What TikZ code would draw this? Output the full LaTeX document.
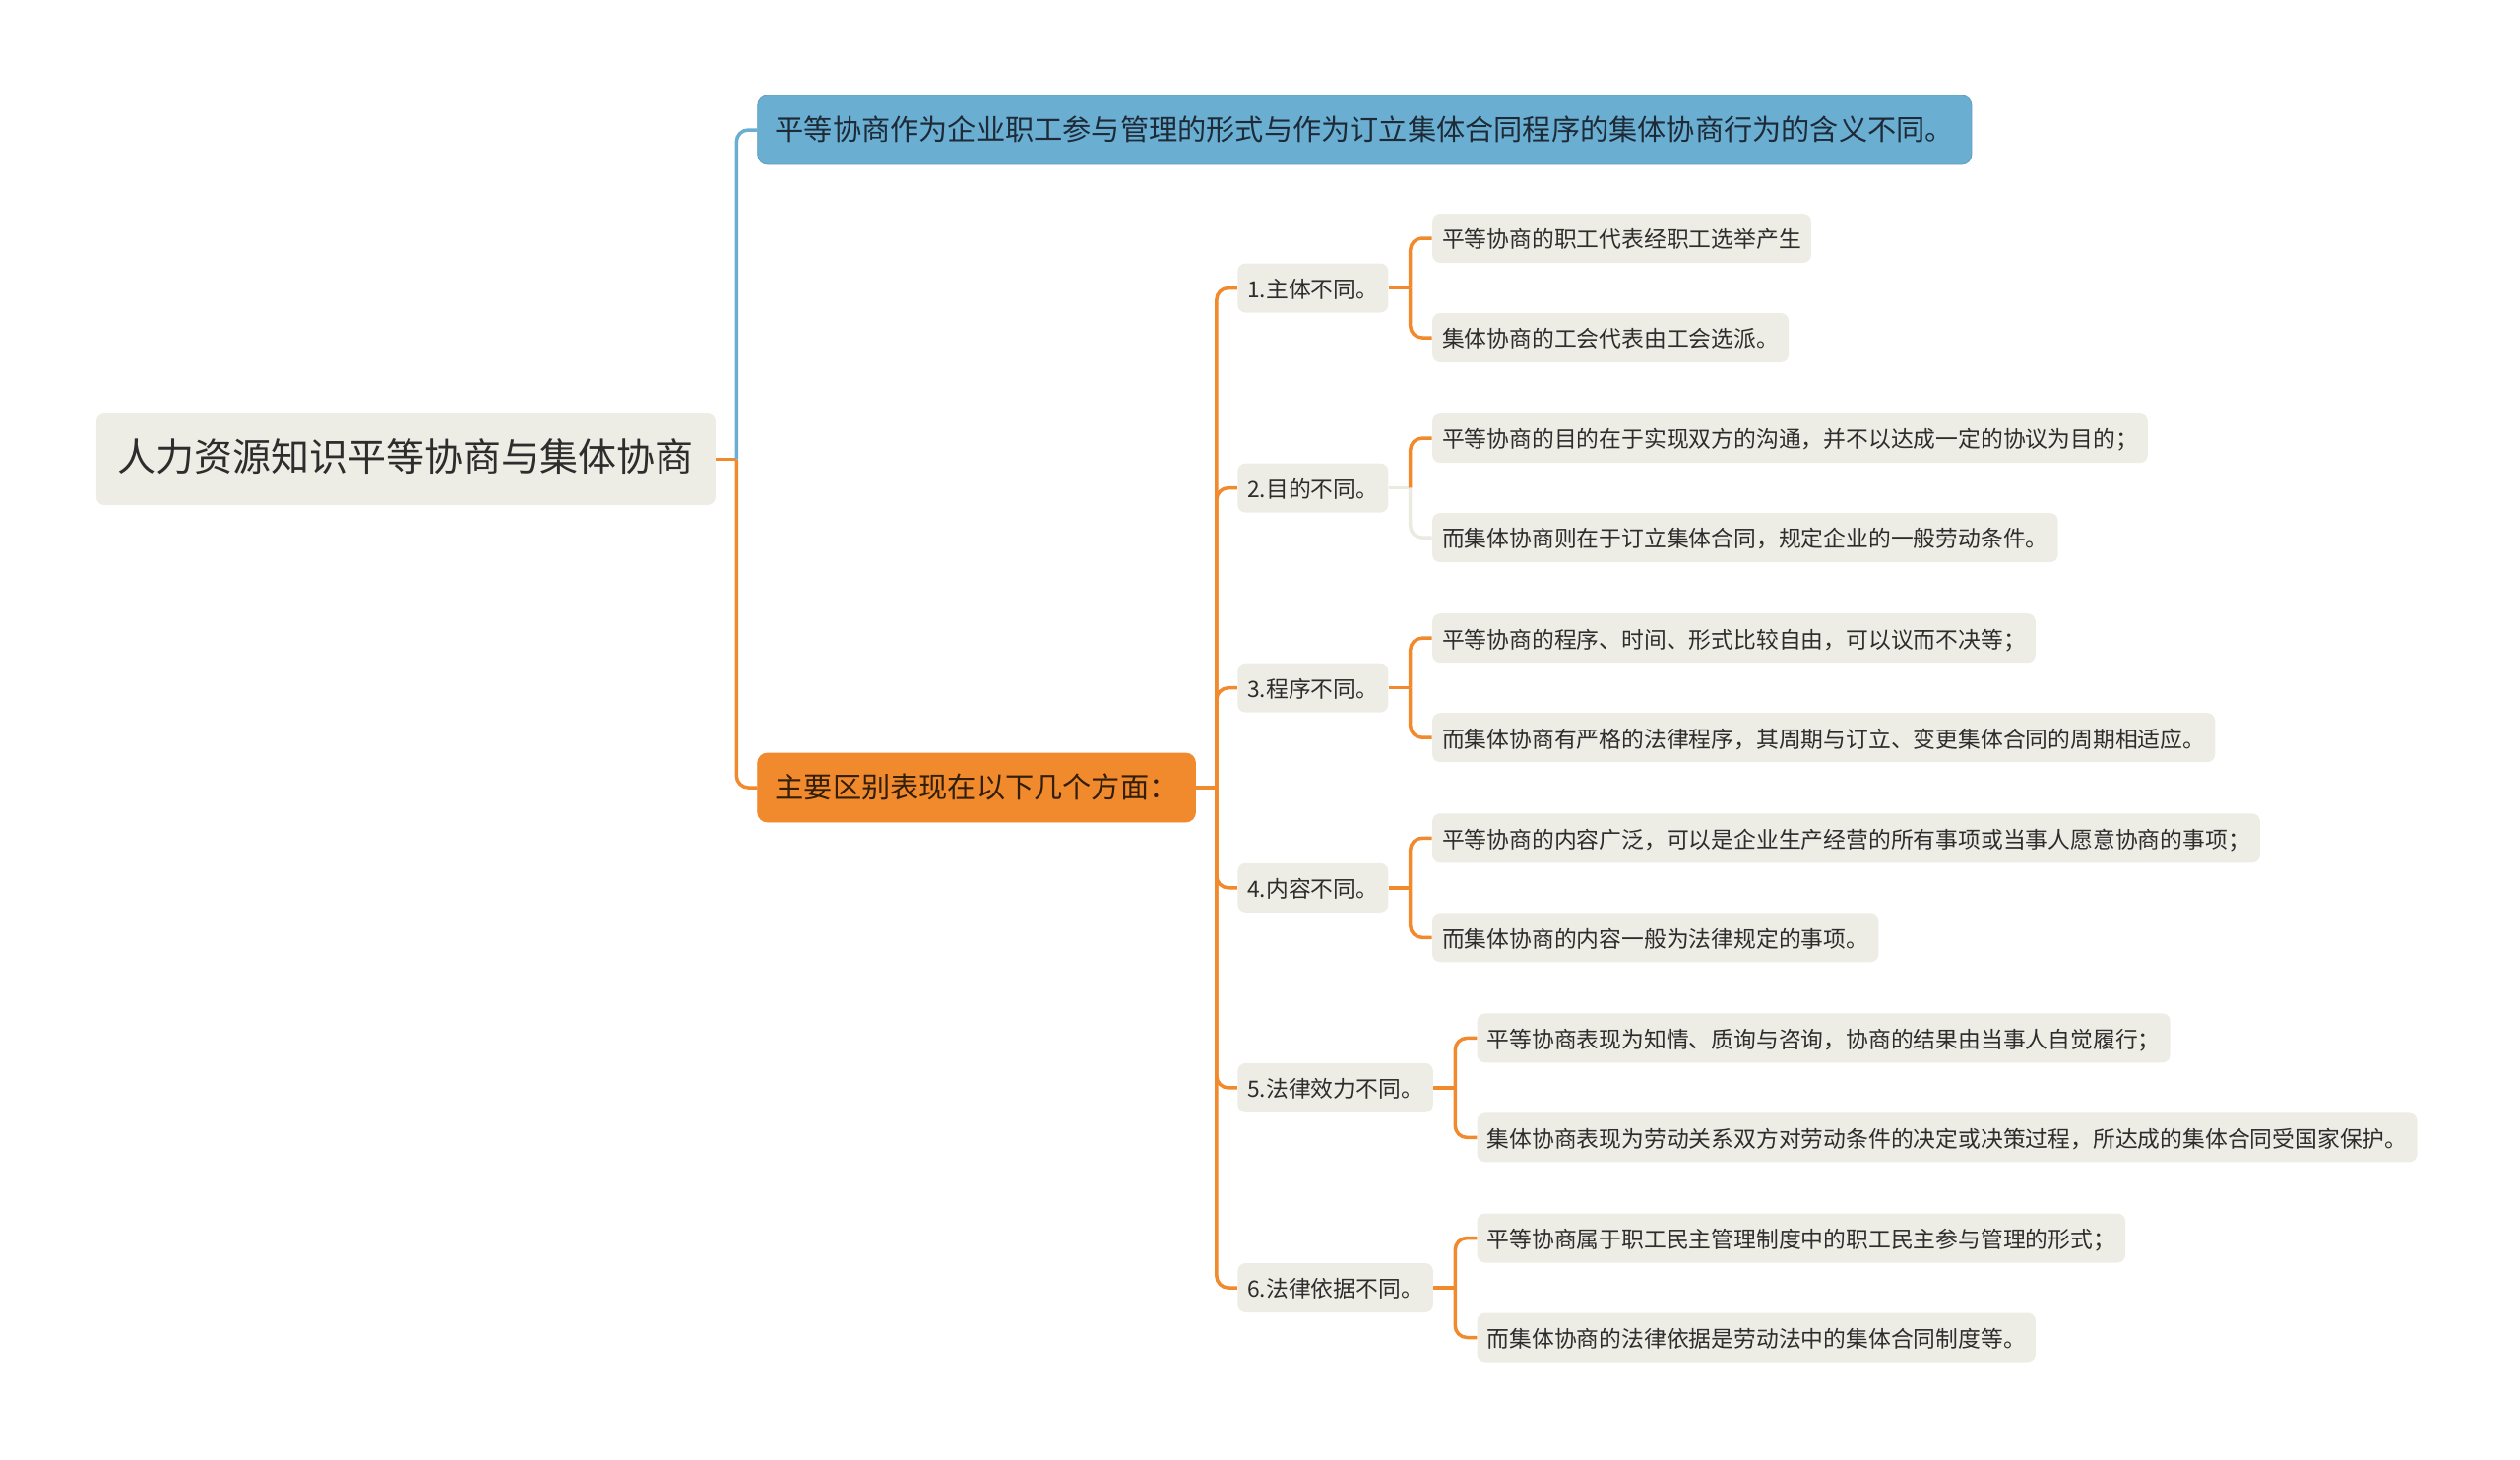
\documentclass[tikz,border=0pt]{standalone}
\usepackage{fontspec}
\setmainfont{Noto Sans CJK SC}
\usetikzlibrary{positioning}
\definecolor{paper}{RGB}{238,237,229}
\definecolor{skyblue}{RGB}{106,175,210}
\definecolor{tangerine}{RGB}{240,138,45}
\definecolor{ink}{RGB}{45,45,45}
\definecolor{paleline}{RGB}{234,234,224}
\tikzset{
  rootnode/.style={fill=paper, rounded corners=4pt, text=ink, inner xsep=11pt,
    minimum height=46.5pt, text height=1.2em, text depth=0pt,
    font=\fontsize{19.5pt}{23pt}\selectfont},
  bluetopic/.style={fill=skyblue, draw=skyblue!90!black, line width=0.4pt,
    rounded corners=5pt, text={rgb,255:red,30;green,42;blue,55}, inner xsep=9pt,
    minimum height=35pt, text height=1.05em, text depth=0pt,
    font=\fontsize{14.6pt}{17.5pt}\selectfont},
  orangetopic/.style={bluetopic, fill=tangerine, draw=tangerine,
    text={rgb,255:red,50;green,30;blue,10}},
  branch/.style={fill=paper, rounded corners=4pt, text=ink, inner xsep=5pt,
    minimum height=25pt, text height=0.98em, text depth=0pt,
    font=\fontsize{11.4pt}{13.7pt}\selectfont},
  leaf/.style={branch},
  link/.style={line width=1.75pt, rounded corners=6pt},
}
\begin{document}
\begin{tikzpicture}[x=0.5pt, y=-0.5pt]
  \useasboundingbox (0,0) rectangle (2560,1483);
  % Define nodes
  \node[rootnode, anchor=west] (root) at (97.5,466.5) {人力资源知识平等协商与集体协商};
  \coordinate[right=10.5pt of root] (jr);
  \node[bluetopic, right=10.5pt of jr, yshift=167.25pt] (meaning)
    {平等协商作为企业职工参与管理的形式与作为订立集体合同程序的集体协商行为的含义不同。};
  \node[orangetopic, right=10.5pt of jr, yshift=-166.75pt] (aspects) {主要区别表现在以下几个方面：};
  \coordinate[right=10.5pt of aspects] (ja);

  \node[branch, right=10.5pt of ja, yshift=253.75pt] (subject) {1.主体不同。};
  \coordinate[right=11pt of subject] (js);
  \node[leaf, right=11pt of js, yshift=25.25pt] (subjecta) {平等协商的职工代表经职工选举产生};
  \node[leaf, right=11pt of js, yshift=-25.25pt] (subjectb) {集体协商的工会代表由工会选派。};

  \node[branch, right=10.5pt of ja, yshift=152.2pt] (purpose) {2.目的不同。};
  \coordinate[right=11pt of purpose] (jp);
  \node[leaf, right=11pt of jp, yshift=25.25pt] (purposea) {平等协商的目的在于实现双方的沟通，并不以达成一定的协议为目的；};
  \node[leaf, right=11pt of jp, yshift=-25.25pt] (purposeb) {而集体协商则在于订立集体合同，规定企业的一般劳动条件。};

  \node[branch, right=10.5pt of ja, yshift=50.65pt] (procedure) {3.程序不同。};
  \coordinate[right=11pt of procedure] (jo);
  \node[leaf, right=11pt of jo, yshift=25.25pt] (procedurea) {平等协商的程序、时间、形式比较自由，可以议而不决等；};
  \node[leaf, right=11pt of jo, yshift=-25.25pt] (procedureb) {而集体协商有严格的法律程序，其周期与订立、变更集体合同的周期相适应。};

  \node[branch, right=10.5pt of ja, yshift=-50.9pt] (content) {4.内容不同。};
  \coordinate[right=11pt of content] (jc);
  \node[leaf, right=11pt of jc, yshift=25.25pt] (contenta) {平等协商的内容广泛，可以是企业生产经营的所有事项或当事人愿意协商的事项；};
  \node[leaf, right=11pt of jc, yshift=-25.25pt] (contentb) {而集体协商的内容一般为法律规定的事项。};

  \node[branch, right=10.5pt of ja, yshift=-152.45pt] (effect) {5.法律效力不同。};
  \coordinate[right=11pt of effect] (je);
  \node[leaf, right=11pt of je, yshift=25.25pt] (effecta) {平等协商表现为知情、质询与咨询，协商的结果由当事人自觉履行；};
  \node[leaf, right=11pt of je, yshift=-25.25pt] (effectb) {集体协商表现为劳动关系双方对劳动条件的决定或决策过程，所达成的集体合同受国家保护。};

  \node[branch, right=10.5pt of ja, yshift=-254pt] (basis) {6.法律依据不同。};
  \coordinate[right=11pt of basis] (jb);
  \node[leaf, right=11pt of jb, yshift=25.25pt] (basisa) {平等协商属于职工民主管理制度中的职工民主参与管理的形式；};
  \node[leaf, right=11pt of jb, yshift=-25.25pt] (basisb) {而集体协商的法律依据是劳动法中的集体合同制度等。};

  % Connect nodes
  \draw[link, tangerine] (root.east) -- (jr);
  \draw[link, skyblue] (jr) |- (meaning.west);
  \draw[link, tangerine] (jr) |- (aspects.west);
  \draw[link, tangerine] (aspects.east) -- (ja);
  \draw[link, tangerine] (ja) |- (subject.west);
  \draw[link, tangerine] (ja) |- (purpose.west);
  \draw[link, tangerine] (ja) |- (procedure.west);
  \draw[link, tangerine] (ja) |- (content.west);
  \draw[link, tangerine] (ja) |- (effect.west);
  \draw[link, tangerine] (ja) |- (basis.west);

  \draw[link, tangerine] (subject.east) -- (js);
  \draw[link, tangerine] (js) |- (subjecta.west);
  \draw[link, tangerine] (js) |- (subjectb.west);
  \draw[link, paleline] (purpose.east) -- (jp);
  \draw[link, tangerine] (jp) |- (purposea.west);
  \draw[link, paleline] (jp) |- (purposeb.west);
  \draw[link, tangerine] (procedure.east) -- (jo);
  \draw[link, tangerine] (jo) |- (procedurea.west);
  \draw[link, tangerine] (jo) |- (procedureb.west);
  \draw[link, tangerine] (content.east) -- (jc);
  \draw[link, tangerine] (jc) |- (contenta.west);
  \draw[link, tangerine] (jc) |- (contentb.west);
  \draw[link, tangerine] (effect.east) -- (je);
  \draw[link, tangerine] (je) |- (effecta.west);
  \draw[link, tangerine] (je) |- (effectb.west);
  \draw[link, tangerine] (basis.east) -- (jb);
  \draw[link, tangerine] (jb) |- (basisa.west);
  \draw[link, tangerine] (jb) |- (basisb.west);
\end{tikzpicture}
\end{document}
